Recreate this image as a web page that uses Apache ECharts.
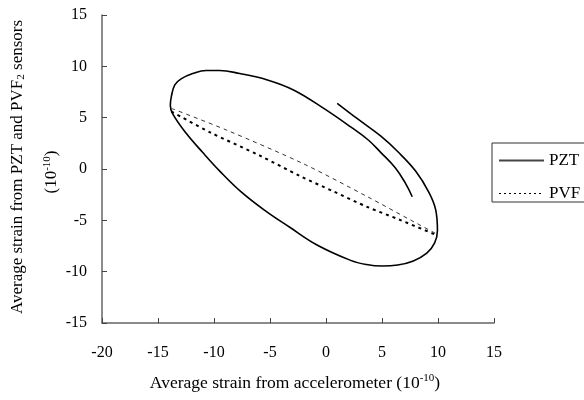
<!DOCTYPE html>
<html>
<head>
<meta charset="UTF-8">
<title>strain loop</title>
<style>
  body { margin: 0; background: #fff; }
</style>
</head>
<body>
<div id="main" style="width: 584px;height:400px;"></div>
<script src="https://cdn.jsdelivr.net/npm/echarts@6.0.0/dist/echarts.min.js"></script>
<script type="text/javascript">
// data (units of 1e-10)
var pztX = [1.0, 2.8, 4.9, 6.4, 8.0, 9.2, 9.8, 9.95, 9.7, 9.0, 7.8, 6.4, 5.0, 3.6, 2.2, -0.8, -3.2, -5.5, -7.6,
            -9.4, -11.0, -12.5, -13.7, -13.9, -13.8, -13.5, -12.9, -11.9, -10.7, -9.5, -7.7, -5.3, -2.9, -0.2, 2.2, 3.8, 4.9, 6.2, 7.1, 7.7];
var pztY = [6.4, 4.9, 3.2, 1.7, -0.2, -2.3, -4.0, -6.0, -7.2, -8.2, -8.95, -9.35, -9.45, -9.3, -8.9, -7.4, -5.7, -4.0, -2.2,
            -0.3, 1.6, 3.5, 5.4, 6.2, 7.1, 8.2, 8.8, 9.3, 9.6, 9.6, 9.3, 8.7, 7.7, 5.9, 4.1, 2.8, 1.6, 0.1, -1.4, -2.7];

// PVF: thin upper branch and heavier lower branch
var pvfUpX = [-13.8, -8.9, -2.0, 3.7, 7.6, 10.0];
var pvfUpY = [5.9, 3.8, 0.5, -2.7, -5.0, -6.4];
var pvfLoX = [-13.8, -10.4, -5.9, -2.3, 0.7, 3.7, 6.7, 10.0];
var pvfLoY = [5.6, 3.6, 1.3, -0.7, -2.2, -3.7, -5.0, -6.5];

var xTicks = [-20, -15, -10, -5, 0, 5, 10, 15];
var yTicks = [-15, -10, -5, 0, 5, 10, 15];

function pairs(xs, ys) {
	var out = [];
	for (var i = 0; i < xs.length; i++) out.push([xs[i], ys[i]]);
	return out;
}

var myChart = echarts.init(document.getElementById('main'));
var serif = 'Liberation Serif';

var axisCommon = {
	type: 'value',
	interval: 5,
	splitLine: { show: false },
	axisLine: { show: true, onZero: false, lineStyle: { color: '#666', width: 1.5 } },
	axisTick: { show: true, inside: true, length: 5, lineStyle: { color: '#444', width: 1 } },
	axisLabel: { color: '#000', fontFamily: serif, fontSize: 16 }
};

option = {
	animation: false,
	backgroundColor: '#fff',
	color: ['#000', '#000', '#000'],
	grid: { left: 102, right: 90, top: 15, bottom: 77, containLabel: false, outerBoundsMode: 'none' },
	xAxis: echarts.util.merge({
		min: xTicks[0], max: xTicks[xTicks.length - 1],
		axisLabel: { margin: 22 }
	}, axisCommon),
	yAxis: echarts.util.merge({
		min: yTicks[0], max: yTicks[yTicks.length - 1],
		axisLabel: { margin: 15 }
	}, axisCommon),
	legend: {
		orient: 'vertical',
		left: 492,
		top: 143,
		padding: [9, 40, 0, 6],
		itemWidth: 45,
		itemHeight: 14,
		itemGap: 16,
		borderColor: '#333',
		borderWidth: 1,
		itemStyle: { opacity: 0 },
		textStyle: { color: '#000', fontFamily: serif, fontSize: 17 },
		data: [
			{ name: 'PZT', lineStyle: { color: '#444', width: 2 } },
			{ name: 'PVF', lineStyle: { color: '#000', width: 1, type: [2, 3] } }
		]
	},
	graphic: [
		{
			type: 'text', x: 295, y: 383,
			style: {
				text: 'Average strain from accelerometer (10{sup|-10})',
				fontFamily: serif, fontSize: 17.5, fill: '#000',
				align: 'center', verticalAlign: 'middle',
				rich: { sup: { fontFamily: serif, fontSize: 11, padding: [0, 0, 10, 0] } }
			}
		},
		{
			type: 'text', x: 18, y: 167, rotation: Math.PI / 2,
			style: {
				text: 'Average strain from PZT and PVF{sub|2} sensors',
				fontFamily: serif, fontSize: 17, fill: '#000',
				align: 'center', verticalAlign: 'middle',
				rich: { sub: { fontFamily: serif, fontSize: 11, padding: [6, 0, 0, 0] } }
			}
		},
		{
			type: 'text', x: 52, y: 172, rotation: Math.PI / 2,
			style: {
				text: '(10{sup|-10})',
				fontFamily: serif, fontSize: 17, fill: '#000',
				align: 'center', verticalAlign: 'middle',
				rich: { sup: { fontFamily: serif, fontSize: 11, padding: [0, 0, 10, 0] } }
			}
		}
	],
	series: [
		{
			name: 'PZT',
			type: 'line',
			symbol: 'none',
			smooth: 0.4,
			lineStyle: { color: '#000', width: 1.6 },
			data: pairs(pztX, pztY)
		},
		{
			name: 'PVF',
			type: 'line',
			symbol: 'none',
			smooth: 0.3,
			lineStyle: { color: '#333', width: 1, type: [4, 4] },
			data: pairs(pvfUpX, pvfUpY)
		},
		{
			name: 'PVF',
			type: 'line',
			symbol: 'none',
			smooth: 0.3,
			lineStyle: { color: '#000', width: 2, type: [3, 4] },
			data: pairs(pvfLoX, pvfLoY)
		}
	]
};

myChart.setOption(option);
</script>
</body>
</html>
